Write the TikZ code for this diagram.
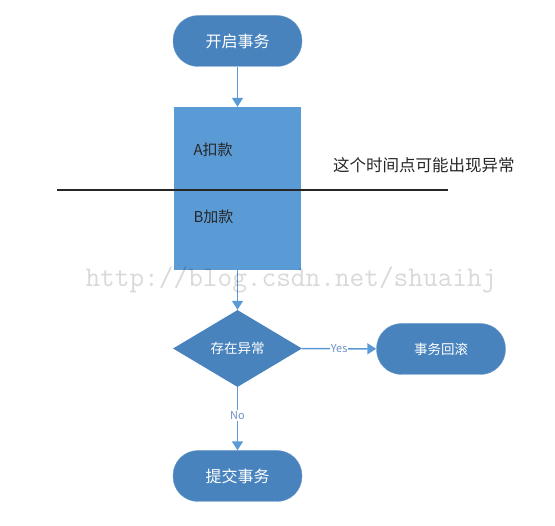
\documentclass[tikz,border=0pt]{standalone}
\usepackage{fontspec}
\setmainfont{Noto Sans CJK SC}
\usepackage{xcolor}
\usetikzlibrary{shapes.geometric,arrows.meta}
\definecolor{darkblue}{RGB}{72,131,189}
\definecolor{lightblue}{RGB}{91,155,213}
\definecolor{labelblue}{RGB}{110,145,200}

\tikzset{
  stadium/.style={draw=darkblue!80!white,fill=darkblue,text=white,rounded corners=25pt,
    minimum width=129pt,minimum height=51pt,inner sep=0pt},
  flow/.style={draw=lightblue,line width=1.5pt,-{Triangle[width=11pt,length=9pt]}},
  flowlabel/.style={fill=white,text=labelblue,font=\fontsize{11}{13}\selectfont,inner sep=1pt}
}

\begin{document}
\begin{tikzpicture}[x=1pt,y=-1pt]
				\useasboundingbox (0,0) rectangle (555,526);
				% Kasten mit den zwei Buchungen
				\node[fill=lightblue,minimum width=127pt,minimum height=163pt,inner sep=0pt] (kuan) at (237.5,188.5) {};
				\node[anchor=west,text=black!85,font=\fontsize{15}{18}\selectfont] (akou) at (190,150) {A扣款};
				\node[anchor=west,text=black!85,font=\fontsize{15}{18}\selectfont] (bjia) at (190,217) {B加款};
				\coordinate (links) at (57,190);
				\coordinate (rechts) at (448,190);
				\draw[black!85,line width=1.1pt] (links) -- (rechts);
				\node[anchor=west,text=black!85,font=\fontsize{16.5}{20}\selectfont,inner sep=0pt] (hinweis) at (333,165) {这个时间点可能出现异常};
				% Ablauf
				\node[stadium,font=\fontsize{16}{19}\selectfont] (kaishi) at (237.5,41) {开启事务};
				\node[diamond,fill=darkblue,text=white,minimum width=129pt,minimum height=77pt,inner sep=0pt,
				  font=\fontsize{13.5}{16}\selectfont] (yichang) at (237.5,348.5) {存在异常};
				\node[stadium,font=\fontsize{13.5}{16}\selectfont] (huigun) at (441,349) {事务回滚};
				\node[stadium,font=\fontsize{16}{19}\selectfont] (tijiao) at (237.5,476) {提交事务};
				\draw[flow] (kaishi) -- (kuan);
				\draw[flow] (kuan) -- (yichang);
				\draw[flow] (yichang) -- node[flowlabel] {Yes} (huigun);
				\draw[flow] (yichang) -- node[flowlabel,pos=0.45] {No} (tijiao);
				% Wasserzeichen
				\node[text=black,text opacity=0.15,font=\ttfamily\fontsize{28.5}{30}\selectfont,inner sep=0pt] (wasser) at (291,280) {http://blog.csdn.net/shuaihj};
			\end{tikzpicture}
\end{document}
